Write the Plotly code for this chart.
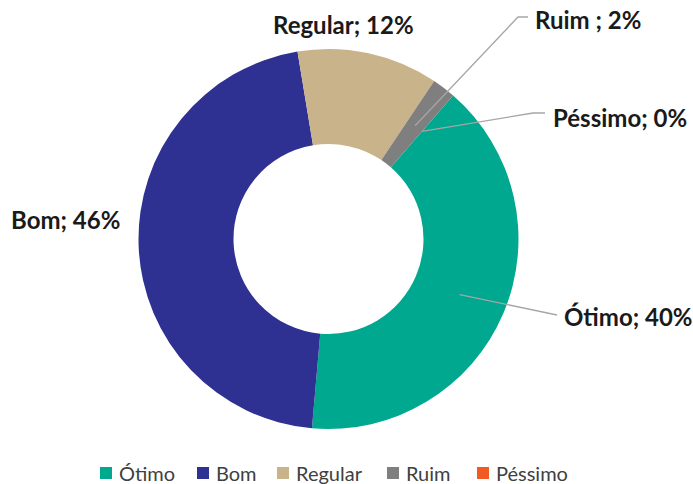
import math
import plotly.graph_objects as go

categories = ["Ótimo", "Bom", "Regular", "Ruim", "Péssimo"]
values = [40, 46, 12, 2, 0]
label_texts = ["Ótimo; 40%", "Bom; 46%", "Regular; 12%", "Ruim ; 2%", "Péssimo; 0%"]
colors = ["#00A88F", "#2E3192", "#C9B38B", "#7F7F7F", "#F15A22"]

W, H = 693, 484
CX, CY, R = 328.5, 239, 190
HOLE = 0.5
ROT = 41

fig = go.Figure()
fig.add_trace(go.Pie(
    labels=categories, values=values, sort=False, direction="clockwise",
    rotation=ROT, hole=HOLE, marker=dict(colors=colors, line=dict(width=0)),
    textinfo="none", hoverinfo="label+percent", showlegend=False,
    domain=dict(x=[(CX - R) / W, (CX + R) / W], y=[1 - (CY + R) / H, 1 - (CY - R) / H]),
))

def px(x):
    return x / W

def py(y):
    return 1 - y / H

# mid-angles of slices (clockwise from 12 o'clock)
total = sum(values)
mids = []
acc = ROT
for v in values:
    ang = v / total * 360
    mids.append(acc + ang / 2)
    acc += ang

rmid = R * (1 + HOLE) / 2

# label positions (pixel centers) and leader elbows
label_pos = {
    "Ótimo": (628, 316),
    "Bom": (65, 219),
    "Regular": (343, 25),
    "Ruim": (588, 20),
    "Péssimo": (620, 117),
}
leaders = {
    "Ótimo": [(557, 315)],
    "Ruim": [(518, 17), (528, 17)],
    "Péssimo": [(533, 113), (545, 113)],
}

shapes = []
for i, c in enumerate(categories):
    if c in leaders:
        a = math.radians(mids[i])
        x0 = CX + rmid * math.sin(a)
        y0 = CY - rmid * math.cos(a)
        pts = [(x0, y0)] + leaders[c]
        path = "M " + " L ".join(f"{px(x):.5f},{py(y):.5f}" for x, y in pts)
        shapes.append(dict(type="path", xref="paper", yref="paper", path=path,
                           line=dict(color="#A6A6A6", width=1.3)))

annotations = []
for i, c in enumerate(categories):
    x, y = label_pos[c]
    annotations.append(dict(x=px(x), y=py(y), xref="paper", yref="paper", text=f"<b>{label_texts[i]}</b>",
                            showarrow=False, xanchor="center", yanchor="middle",
                            font=dict(family="Lato, Open Sans, sans-serif", size=24, color="#1A1A1A")))

# custom legend (marker square + text)
legend_x = [100, 197, 277, 387, 477]
legend_y = 473
MS = 12
for i, c in enumerate(categories):
    x0 = legend_x[i]
    shapes.append(dict(type="rect", xref="paper", yref="paper",
                       x0=px(x0), x1=px(x0 + MS), y0=py(legend_y + MS / 2), y1=py(legend_y - MS / 2),
                       fillcolor=colors[i], line=dict(width=0)))
    annotations.append(dict(x=px(x0 + MS + 5), y=py(legend_y), xref="paper", yref="paper", text=c,
                            showarrow=False, xanchor="left", yanchor="middle",
                            font=dict(family="Lato, Open Sans, sans-serif", size=20, color="#404040")))

fig.update_layout(
    width=W, height=H, margin=dict(l=0, r=0, t=0, b=0),
    paper_bgcolor="white", plot_bgcolor="white",
    shapes=shapes, annotations=annotations,
    showlegend=False,
)

fig.write_html("out.html", config={"displayModeBar": False},
               post_script="document.body.style.margin='0';")
